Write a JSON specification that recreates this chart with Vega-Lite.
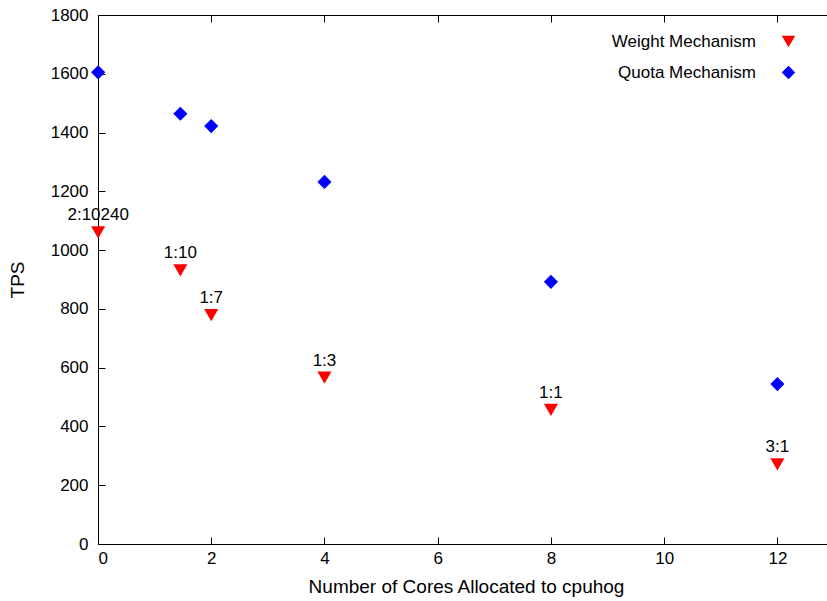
{
  "$schema": "https://vega.github.io/schema/vega-lite/v6.json",
  "width": 736,
  "height": 529,
  "autosize": {"type": "none"},
  "padding": {"left": 98, "top": 15, "right": 0, "bottom": 57},
  "background": "white",
  "data": {
    "values": [
      {"cores": 0.003, "tps": 1605, "series": "Quota Mechanism", "label": ""},
      {"cores": 1.4545, "tps": 1464, "series": "Quota Mechanism", "label": ""},
      {"cores": 2, "tps": 1422, "series": "Quota Mechanism", "label": ""},
      {"cores": 4, "tps": 1232, "series": "Quota Mechanism", "label": ""},
      {"cores": 8, "tps": 892, "series": "Quota Mechanism", "label": ""},
      {"cores": 12, "tps": 544, "series": "Quota Mechanism", "label": ""},
      {"cores": 0.003, "tps": 1060, "series": "Weight Mechanism", "label": "2:10240"},
      {"cores": 1.4545, "tps": 931, "series": "Weight Mechanism", "label": "1:10"},
      {"cores": 2, "tps": 779, "series": "Weight Mechanism", "label": "1:7"},
      {"cores": 4, "tps": 566, "series": "Weight Mechanism", "label": "1:3"},
      {"cores": 8, "tps": 456, "series": "Weight Mechanism", "label": "1:1"},
      {"cores": 12, "tps": 271, "series": "Weight Mechanism", "label": "3:1"}
    ]
  },
  "layer": [
    {
      "mark": {"type": "point", "filled": true, "opacity": 1, "size": 200},
      "encoding": {
        "x": {
          "field": "cores", "type": "quantitative",
          "scale": {"domain": [0, 13], "nice": false, "zero": false},
          "axis": {"orient": "bottom", "title": "Number of Cores Allocated to cpuhog", "values": [0, 2, 4, 6, 8, 10, 12], "format": "d", "tickSize": -7, "labelPadding": 13, "titlePadding": 11, "grid": false}
        },
        "y": {
          "field": "tps", "type": "quantitative",
          "scale": {"domain": [0, 1800], "nice": false},
          "axis": {"orient": "left", "title": "TPS", "values": [0, 200, 400, 600, 800, 1000, 1200, 1400, 1600, 1800], "format": "d", "tickSize": -7, "labelPadding": 17, "titlePadding": 23, "grid": false}
        },
        "color": {
          "field": "series", "type": "nominal",
          "scale": {"domain": ["Weight Mechanism", "Quota Mechanism"], "range": ["#ff0000", "#0000ff"]},
          "legend": {"title": null, "orient": "none", "legendX": 682, "legendY": 18, "labelAlign": "right", "labelOffset": -41, "rowPadding": 13, "symbolSize": 180, "symbolStrokeWidth": 0}
        },
        "shape": {
          "field": "series", "type": "nominal",
          "scale": {"domain": ["Weight Mechanism", "Quota Mechanism"], "range": ["triangle-down", "diamond"]},
          "legend": {"title": null, "orient": "none", "legendX": 682, "legendY": 18, "labelAlign": "right", "labelOffset": -41, "rowPadding": 13, "symbolSize": 180, "symbolStrokeWidth": 0}
        }
      }
    },
    {
      "mark": {"type": "text", "baseline": "alphabetic", "dy": -12, "fontSize": 17, "font": "Liberation Sans", "color": "black"},
      "encoding": {
        "x": {
          "field": "cores", "type": "quantitative",
          "scale": {"domain": [0, 13], "nice": false, "zero": false},
          "axis": {"orient": "top", "title": null, "labels": false, "values": [0, 2, 4, 6, 8, 10, 12], "tickSize": -7, "grid": false}
        },
        "y": {
          "field": "tps", "type": "quantitative",
          "scale": {"domain": [0, 1800], "nice": false},
          "axis": {"orient": "right", "title": null, "labels": false, "values": [0, 200, 400, 600, 800, 1000, 1200, 1400, 1600, 1800], "tickSize": -7, "grid": false}
        },
        "text": {"field": "label"}
      }
    }
  ],
  "resolve": {"axis": {"x": "independent", "y": "independent"}},
  "config": {
    "view": {"stroke": "black", "strokeWidth": 1},
    "font": "Liberation Sans",
    "axis": {
      "domainColor": "black", "tickColor": "black", "tickWidth": 1,
      "labelFont": "Liberation Sans", "labelFontSize": 17, "labelColor": "black",
      "titleFont": "Liberation Sans", "titleFontSize": 19, "titleFontWeight": "normal", "titleColor": "black"
    },
    "legend": {"labelFont": "Liberation Sans", "labelFontSize": 17, "labelColor": "black", "labelLimit": 300}
  }
}
